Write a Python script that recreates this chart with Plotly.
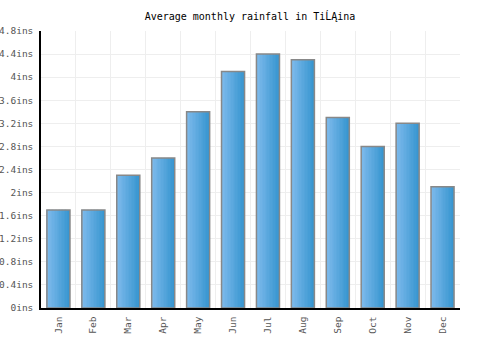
import plotly.graph_objects as go

months = ["Jan", "Feb", "Mar", "Apr", "May", "Jun", "Jul", "Aug", "Sep", "Oct", "Nov", "Dec"]
rainfall = [1.7, 1.7, 2.3, 2.6, 3.4, 4.1, 4.4, 4.3, 3.3, 2.8, 3.2, 2.1]
y_ticks = [0, 0.4, 0.8, 1.2, 1.6, 2.0, 2.4, 2.8, 3.2, 3.6, 4.0, 4.4, 4.8]
y_labels = ["0ins", "0.4ins", "0.8ins", "1.2ins", "1.6ins", "2ins", "2.4ins", "2.8ins",
            "3.2ins", "3.6ins", "4ins", "4.4ins", "4.8ins"]
title = "Average monthly rainfall in TiĹĄina"

xs = list(range(len(months)))
bar_w = 0.66
N = 16
left_c = (126, 186, 236)
right_c = (56, 150, 208)

fig = go.Figure()
for i in range(N):
    t = i / (N - 1)
    c = tuple(round(left_c[k] + (right_c[k] - left_c[k]) * t) for k in range(3))
    sw = bar_w / N
    fig.add_trace(go.Bar(
        x=xs, y=rainfall,
        width=[sw * 1.25 if i < N - 1 else sw] * len(xs),
        offset=[-bar_w / 2 + i * sw] * len(xs),
        marker=dict(color=f"rgb{c}", line=dict(width=0)),
        hoverinfo="skip", showlegend=False,
    ))
fig.add_trace(go.Bar(
    x=xs, y=rainfall, width=[bar_w] * len(xs),
    marker=dict(color="rgba(0,0,0,0)", line=dict(color="#888888", width=1.5)),
    showlegend=False,
))

font = "DejaVu Sans Mono"
fig.update_layout(
    width=500, height=350,
    barmode="overlay",
    paper_bgcolor="white", plot_bgcolor="white",
    margin=dict(l=41, r=40, t=31, b=42),
    title=dict(text=title, x=0.5, xanchor="center", y=1 - 16 / 350, yanchor="middle",
               font=dict(family=font, size=10, color="#000000")),
    xaxis=dict(
        range=[-0.5, 11.5], tickmode="array", tickvals=xs, ticktext=months,
        tickangle=-90, showgrid=False, zeroline=False, automargin=False,
        showline=True, linecolor="#000000", linewidth=1.5,
        ticks="", ticklabelstandoff=3, tickfont=dict(family=font, size=9.5, color="#555555"),
        minor=dict(tickmode="array", tickvals=[x + 0.5 for x in range(-1, 12)],
                   showgrid=True, gridcolor="#eeeeee", gridwidth=1),
    ),
    yaxis=dict(
        range=[0, 4.8], tickmode="array", tickvals=y_ticks, ticktext=y_labels,
        showgrid=True, gridcolor="#eeeeee", gridwidth=1, zeroline=False, automargin=False,
        showline=True, linecolor="#000000", linewidth=1.5,
        ticks="", ticklabelstandoff=4, tickfont=dict(family=font, size=9.5, color="#555555"),
    ),
)
fig.write_html("out.html")
